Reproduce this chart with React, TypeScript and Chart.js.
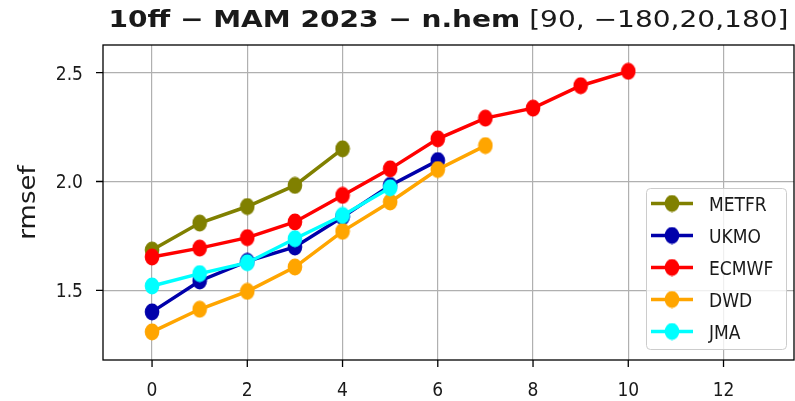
import React, { useEffect, useRef } from "react";
import { Chart, registerables } from "chart.js";

Chart.register(...registerables);

// ---- data ----
const LEADS = [0, 1, 2, 3, 4, 5, 6, 7, 8, 9, 10];
const METFR = [1.685, 1.809, 1.885, 1.982, 2.15];
const UKMO = [1.401, 1.543, 1.633, 1.699, 1.837, 1.982, 2.096];
const ECMWF = [1.653, 1.694, 1.742, 1.814, 1.936, 2.058, 2.196, 2.291, 2.337, 2.44, 2.506];
const DWD = [1.309, 1.413, 1.495, 1.607, 1.771, 1.906, 2.055, 2.165];
const JMA = [1.52, 1.577, 1.627, 1.737, 1.844, 1.971];

const SERIES_NAMES = ["METFR", "UKMO", "ECMWF", "DWD", "JMA"];
const SERIES_VALUES = [METFR, UKMO, ECMWF, DWD, JMA];
const SERIES_COLORS = ["#808000", "#0000aa", "#ff0000", "#ffa500", "#00ffff"];

const X_TICKS = [0, 2, 4, 6, 8, 10, 12];
const Y_TICKS = [1.5, 2.0, 2.5];
const X_MIN = -1.03;
const X_MAX = 13.48;
const Y_MIN = 1.18;
const Y_MAX = 2.627;

const TITLE_BOLD = "10ff − MAM 2023 − n.hem";
const TITLE_MATH = "[90, −180,20,180]";
const Y_LABEL = "rmsef";

const FONT = '"DejaVu Sans"';
const SX = 0.9;
const TEXT_COLOR = "#1a1a1a";

function makeMarker(color: string): HTMLCanvasElement {
  const c = document.createElement("canvas");
  c.width = 16;
  c.height = 18;
  const g = c.getContext("2d")!;
  g.fillStyle = color;
  g.beginPath();
  g.ellipse(8, 9, 7.3, 8.5, 0, 0, Math.PI * 2);
  g.fill();
  return c;
}

export default function App() {
  const ref = useRef<HTMLCanvasElement | null>(null);

  useEffect(() => {
    if (!ref.current) return;
    const markers = SERIES_COLORS.map(makeMarker);

    const datasets = SERIES_NAMES.map((name, i) => ({
      label: name,
      data: SERIES_VALUES[i].map((v, j) => ({ x: LEADS[j], y: v })),
      borderColor: SERIES_COLORS[i],
      backgroundColor: SERIES_COLORS[i],
      borderWidth: 3.5,
      pointStyle: markers[i] as any,
      pointRadius: 8,
      pointHoverRadius: 8,
      order: SERIES_NAMES.length - i,
      tension: 0,
    }));

    const decor = {
      id: "decor",
      afterDraw(chart: any) {
        const { ctx, chartArea: a, scales } = chart;
        const xs = scales.x;
        const ys = scales.y;
        ctx.save();

        const text = (
          s: string,
          px: number,
          py: number,
          fs: number,
          weight: string,
          align: CanvasTextAlign,
          sx: number
        ) => {
          ctx.save();
          ctx.translate(px, py);
          ctx.scale(sx, 1);
          ctx.font = `${weight} ${fs}px ${FONT}`;
          ctx.textAlign = align;
          ctx.textBaseline = "alphabetic";
          ctx.fillStyle = TEXT_COLOR;
          ctx.fillText(s, 0, 0);
          ctx.restore();
        };

        // frame
        ctx.strokeStyle = "#000";
        ctx.lineWidth = 1.3;
        ctx.strokeRect(a.left, a.top, a.right - a.left, a.bottom - a.top);

        // tick marks
        ctx.beginPath();
        X_TICKS.forEach((v) => {
          const px = xs.getPixelForValue(v);
          ctx.moveTo(px, a.bottom);
          ctx.lineTo(px, a.bottom + 7);
        });
        Y_TICKS.forEach((v) => {
          const py = ys.getPixelForValue(v);
          ctx.moveTo(a.left, py);
          ctx.lineTo(a.left - 7, py);
        });
        ctx.stroke();

        // tick labels
        X_TICKS.forEach((v) => {
          text(String(v), xs.getPixelForValue(v), 396, 19, "normal", "center", SX);
        });
        Y_TICKS.forEach((v) => {
          text(v.toFixed(1), 83, ys.getPixelForValue(v) + 7, 19, "normal", "right", SX);
        });

        // y label
        ctx.save();
        ctx.translate(35, (a.top + a.bottom) / 2);
        ctx.scale(SX, 1);
        ctx.rotate(-Math.PI / 2);
        ctx.font = `normal 26px ${FONT}`;
        ctx.textAlign = "center";
        ctx.textBaseline = "alphabetic";
        ctx.fillStyle = TEXT_COLOR;
        ctx.fillText(Y_LABEL, 0, 0);
        ctx.restore();

        // title (bold part + math part), fitted to width
        ctx.font = `bold 23px ${FONT}`;
        const wb = ctx.measureText(TITLE_BOLD).width;
        ctx.font = `normal 23px ${FONT}`;
        const wsp = ctx.measureText(" ").width;
        const wn = ctx.measureText(TITLE_MATH).width;
        const targetW = 680;
        const tsx = targetW / (wb + wsp + wn);
        const cx = (a.left + a.right) / 2;
        const startX = cx - targetW / 2;
        text(TITLE_BOLD, startX, 26.5, 23, "bold", "left", tsx);
        text(TITLE_MATH, startX + (wb + wsp) * tsx, 26.5, 23, "normal", "left", tsx);

        // legend
        ctx.beginPath();
        (ctx as any).roundRect(646.5, 188.5, 140, 161, 4);
        ctx.fillStyle = "rgba(255,255,255,0.8)";
        ctx.fill();
        ctx.strokeStyle = "#cccccc";
        ctx.lineWidth = 1;
        ctx.stroke();
        SERIES_NAMES.forEach((name, i) => {
          const ry = 203.5 + i * 32;
          ctx.beginPath();
          ctx.strokeStyle = SERIES_COLORS[i];
          ctx.lineWidth = 3.5;
          ctx.moveTo(651, ry);
          ctx.lineTo(693, ry);
          ctx.stroke();
          ctx.drawImage(markers[i], 672 - 8, ry - 9);
          text(name, 709, ry + 7, 19, "normal", "left", SX);
        });

        ctx.restore();
      },
    };

    const chart = new Chart(ref.current, {
      type: "line",
      data: { datasets: datasets as any },
      options: {
        responsive: false,
        devicePixelRatio: 1,
        animation: false,
        layout: { autoPadding: false, padding: { top: 45, right: 1, left: 0, bottom: 0 } },
        plugins: {
          legend: { display: false },
          title: { display: false },
          tooltip: { enabled: false },
        },
        scales: {
          x: {
            type: "linear",
            min: X_MIN,
            max: X_MAX,
            ticks: { display: false },
            grid: { color: "#b0b0b0", lineWidth: 1.2, drawTicks: false },
            border: { display: false },
            afterBuildTicks: (s: any) => {
              s.ticks = X_TICKS.map((v) => ({ value: v }));
            },
            afterFit: (s: any) => {
              s.height = 41;
            },
          },
          y: {
            type: "linear",
            min: Y_MIN,
            max: Y_MAX,
            ticks: { display: false },
            grid: { color: "#b0b0b0", lineWidth: 1.2, drawTicks: false },
            border: { display: false },
            afterBuildTicks: (s: any) => {
              s.ticks = Y_TICKS.map((v) => ({ value: v }));
            },
            afterFit: (s: any) => {
              s.width = 103;
            },
          },
        },
      },
      plugins: [decor],
    });

    return () => chart.destroy();
  }, []);

  return (
    <div style={{ position: "absolute", left: 0, top: 0, width: 795, height: 401, background: "#fff" }}>
      <canvas ref={ref} width={795} height={401} style={{ display: "block" }} />
    </div>
  );
}
